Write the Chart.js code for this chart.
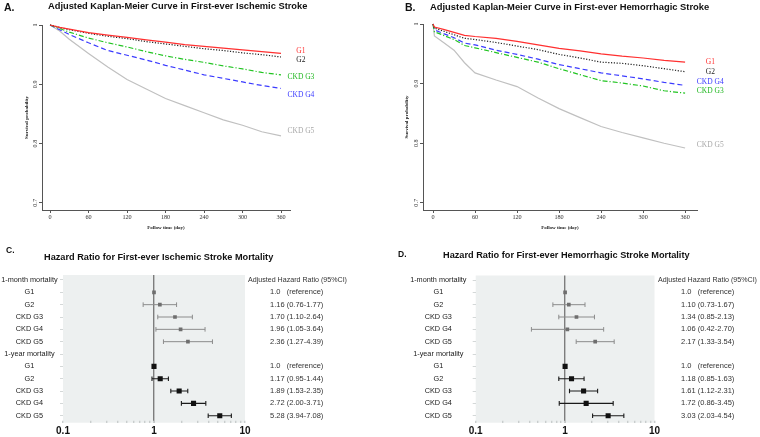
<!DOCTYPE html>
<html lang="en">
<head>
<meta charset="UTF-8">
<title>CKD and stroke mortality</title>
<script src="https://cdn.jsdelivr.net/npm/chart.js"></script>
<style>
  body { margin: 0; background: #fff; width: 760px; height: 437px; position: relative; overflow: hidden;
         font-family: 'Liberation Sans', Arial, sans-serif; }
  canvas { position: absolute; }
  .hd { position: absolute; font-weight: bold; color: #111; white-space: nowrap; line-height: 1; }
</style>
</head>
<body>

<canvas id="kmA" width="380" height="240" style="left:0;top:0"></canvas>
<canvas id="kmB" width="380" height="240" style="left:380px;top:0"></canvas>
<canvas id="hrC" width="380" height="197" style="left:0;top:240px"></canvas>
<canvas id="hrD" width="380" height="197" style="left:380px;top:240px"></canvas>

<div class="hd" style="left:4px;top:1.8px;font-size:10.5px">A.</div>
<div class="hd" style="left:48px;top:2.2px;font-size:9.3px">Adjusted Kaplan-Meier Curve in First-ever Ischemic Stroke</div>
<div class="hd" style="left:405px;top:1.8px;font-size:10.5px">B.</div>
<div class="hd" style="left:430px;top:2.2px;font-size:9.4px">Adjusted Kaplan-Meier Curve in First-ever Hemorrhagic Stroke</div>
<div class="hd" style="left:6px;top:246.3px;font-size:8.5px">C.</div>
<div class="hd" style="left:44px;top:252.8px;font-size:9.2px">Hazard Ratio for First-ever Ischemic Stroke Mortality</div>
<div class="hd" style="left:398px;top:249.8px;font-size:8.5px">D.</div>
<div class="hd" style="left:443px;top:251px;font-size:9.2px">Hazard Ratio for First-ever Hemorrhagic Stroke Mortality</div>

<script>
// ---- Kaplan-Meier data ----
const groups = ['G1', 'G2', 'CKD G3', 'CKD G4', 'CKD G5'];
const dayTicks = [0, 60, 120, 180, 240, 300, 360];
const survTicks = [0.7, 0.8, 0.9, 1];

const daysIsch = [0, 15, 30, 60, 90, 120, 150, 180, 210, 240, 270, 300, 330, 360];
const ischG1 = [1, 0.996, 0.993, 0.987, 0.983, 0.979, 0.975, 0.971, 0.967, 0.964, 0.961, 0.958, 0.955, 0.952];
const ischG2 = [1, 0.996, 0.992, 0.986, 0.981, 0.977, 0.972, 0.968, 0.964, 0.960, 0.957, 0.953, 0.950, 0.946];
const ischG3 = [1, 0.994, 0.988, 0.978, 0.970, 0.963, 0.955, 0.948, 0.942, 0.937, 0.931, 0.926, 0.920, 0.916];
const ischG4 = [1, 0.992, 0.984, 0.970, 0.957, 0.949, 0.941, 0.932, 0.924, 0.916, 0.910, 0.904, 0.898, 0.893];
const ischG5 = [1, 0.990, 0.976, 0.952, 0.929, 0.908, 0.892, 0.876, 0.864, 0.852, 0.840, 0.831, 0.820, 0.813];

const daysHem = [0, 2, 15, 30, 45, 60, 90, 120, 150, 180, 210, 240, 270, 300, 330, 360];
const hemG1 = [1, 0.995, 0.991, 0.986, 0.981, 0.979, 0.976, 0.971, 0.965, 0.959, 0.955, 0.950, 0.946, 0.943, 0.939, 0.936];
const hemG2 = [1, 0.993, 0.988, 0.982, 0.976, 0.974, 0.969, 0.963, 0.957, 0.949, 0.943, 0.936, 0.934, 0.930, 0.925, 0.920];
const hemG3 = [1, 0.987, 0.981, 0.974, 0.964, 0.960, 0.952, 0.944, 0.936, 0.925, 0.915, 0.905, 0.901, 0.896, 0.888, 0.884];
const hemG4 = [1, 0.990, 0.984, 0.977, 0.968, 0.965, 0.956, 0.949, 0.941, 0.932, 0.925, 0.918, 0.913, 0.908, 0.902, 0.897];
const hemG5 = [1, 0.980, 0.969, 0.956, 0.935, 0.918, 0.906, 0.895, 0.876, 0.858, 0.843, 0.828, 0.818, 0.809, 0.800, 0.792];

// ---- hazard ratio data ----
const rowLabels = ['1-month mortality', 'G1', 'G2', 'CKD G3', 'CKD G4', 'CKD G5',
                   '1-year mortality', 'G1', 'G2', 'CKD G3', 'CKD G4', 'CKD G5'];
const hrTicks = [0.1, 1, 10];

const ischMonthHr = [1.0, 1.16, 1.70, 1.96, 2.36];
const ischMonthLo = [null, 0.76, 1.10, 1.05, 1.27];
const ischMonthHi = [null, 1.77, 2.64, 3.64, 4.39];
const ischYearHr = [1.0, 1.17, 1.89, 2.72, 5.28];
const ischYearLo = [null, 0.95, 1.53, 2.00, 3.94];
const ischYearHi = [null, 1.44, 2.35, 3.71, 7.08];

const hemMonthHr = [1.0, 1.10, 1.34, 1.06, 2.17];
const hemMonthLo = [null, 0.73, 0.85, 0.42, 1.33];
const hemMonthHi = [null, 1.67, 2.13, 2.70, 3.54];
const hemYearHr = [1.0, 1.18, 1.61, 1.72, 3.03];
const hemYearLo = [null, 0.85, 1.12, 0.86, 2.03];
const hemYearHi = [null, 1.63, 2.31, 3.45, 4.54];

Chart.defaults.font.family = "'Liberation Sans', Arial, sans-serif";
Chart.defaults.animation = false;
Chart.defaults.plugins.legend.display = false;
Chart.defaults.plugins.tooltip.enabled = false;

const serif = "'Liberation Serif', 'Times New Roman', serif";
const lineColors = ['#ff3030', '#222222', '#22c422', '#3b3bff', '#c0c0c0'];
const textColors = ['#ff3030', '#222222', '#22b822', '#3b3bff', '#a8a8a8'];
const dashes = [[], [1.2, 1.6], [5, 2, 1.2, 2], [5, 3], []];

// group names next to curve ends
const kmLabels = {
  id: 'kmLabels',
  afterDatasetsDraw(chart, args, opts) {
    const ctx = chart.ctx, xs = chart.scales.x, ys = chart.scales.y;
    ctx.save();
    ctx.font = '7.5px ' + serif;
    ctx.textAlign = 'center';
    ctx.textBaseline = 'middle';
    groups.forEach((g, i) => {
      ctx.fillStyle = textColors[i];
      ctx.fillText(g, xs.getPixelForValue(opts.day), ys.getPixelForValue(opts.surv[i]));
    });
    ctx.restore();
  }
};

function drawKm(id, days, series, o) {
  new Chart(document.getElementById(id), {
    type: 'line',
    data: {
      datasets: series.map((vals, i) => ({
        label: groups[i],
        data: days.map((d, k) => ({ x: d, y: vals[k] })),
        borderColor: lineColors[i],
        borderWidth: 1.2,
        borderDash: dashes[i],
        pointRadius: 0,
        tension: 0,
        clip: false
      }))
    },
    options: {
      responsive: false,
      layout: { padding: { left: 0, top: o.top, right: o.right, bottom: 0 } },
      scales: {
        x: {
          type: 'linear', min: o.xMin, max: o.xMax,
          afterBuildTicks: s => { s.ticks = dayTicks.map(v => ({ value: v })); },
          afterFit: s => { s.height = 30; },
          grid: { drawOnChartArea: false, tickLength: 3, tickColor: '#555' },
          border: { color: '#555', width: 1 },
          ticks: { font: { size: 6.2, family: serif }, color: '#333', padding: 0.5, maxRotation: 0, autoSkip: false },
          title: { display: true, text: 'Follow time (day)', color: '#222',
                   font: { size: 5, family: serif, weight: 'bold' }, padding: { top: 0, bottom: 9 } }
        },
        y: {
          type: 'linear', min: 0.688, max: 1,
          afterBuildTicks: s => { s.ticks = survTicks.map(v => ({ value: v })); },
          afterFit: s => { s.width = o.left; },
          grid: { drawOnChartArea: false, tickLength: 3, tickColor: '#555' },
          border: { color: '#555', width: 1 },
          ticks: { font: { size: 6.2, family: serif }, color: '#333', padding: 0, minRotation: 90, maxRotation: 90,
                   crossAlign: 'center', callback: v => String(v) },
          title: { display: true, text: 'Survival probability', color: '#222',
                   font: { size: 5, family: serif, weight: 'bold' }, padding: { top: 24, bottom: 0 } }
        }
      },
      plugins: { kmLabels: { day: o.labelDay, surv: o.labelSurv } }
    },
    plugins: [kmLabels]
  });
}

drawKm('kmA', daysIsch, [ischG1, ischG2, ischG3, ischG4, ischG5], {
  top: 25, right: 90, left: 42, xMin: -12.5, xMax: 374,
  labelDay: 391, labelSurv: [0.956, 0.941, 0.912, 0.882, 0.821]
});
drawKm('kmB', daysHem, [hemG1, hemG2, hemG3, hemG4, hemG5], {
  top: 24, right: 63, left: 43, xMin: -14.3, xMax: 377,
  labelDay: 396, labelSurv: [0.936, 0.920, 0.888, 0.903, 0.797]
});

// ---- forest plots ----
function ciText(hr, lo, hi) {
  if (lo == null) return hr.toFixed(1) + '   (reference)';
  return hr.toFixed(2) + ' (' + lo.toFixed(2) + '-' + hi.toFixed(2) + ')';
}

const forestDecor = {
  id: 'forestDecor',
  beforeDraw(chart) {
    const a = chart.chartArea, ctx = chart.ctx;
    ctx.save();
    ctx.fillStyle = '#edf0f0';
    ctx.fillRect(a.left, a.top, a.right - a.left, a.bottom - a.top);
    ctx.restore();
  },
  afterDraw(chart, args, opts) {
    const a = chart.chartArea, ctx = chart.ctx, ys = chart.scales.y;
    const fam = Chart.defaults.font.family;
    ctx.save();
    ctx.fillStyle = '#333';
    ctx.textBaseline = 'middle';
    ctx.font = '7.1px ' + fam;
    ctx.fillText('Adjusted Hazard Ratio (95%CI)', a.right + opts.headX, ys.getPixelForValue(0));
    ctx.font = '7.5px ' + fam;
    opts.lines.forEach((t, i) => {
      if (t) ctx.fillText(t, a.right + opts.valX, ys.getPixelForValue(i));
    });
    ctx.restore();
  }
};

function drawForest(id, month, year, o) {
  const sets = [];
  const lines = [''];
  [[month, 1, '#8c8c8c', '#6e6e6e', 2.6, 1], [year, 7, '#1a1a1a', '#111', 3.6, 1.1]].forEach(([g, start, barCol, ptCol, r, bw]) => {
    g.hr.forEach((hr, i) => {
      const row = start + i;
      lines[row] = ciText(hr, g.lo[i], g.hi[i]);
      if (g.lo[i] != null) {
        sets.push({
          data: [{ x: g.lo[i], y: row }, { x: g.hi[i], y: row }],
          borderColor: barCol, borderWidth: bw,
          pointStyle: 'line', pointRotation: 90, pointRadius: 2.3,
          pointBorderColor: barCol, pointBorderWidth: bw
        });
      }
    });
    sets.unshift({
      data: g.hr.map((hr, i) => ({ x: hr, y: start + i })),
      showLine: false, pointStyle: 'rect', pointRadius: r,
      pointBackgroundColor: ptCol, pointBorderColor: ptCol, pointBorderWidth: 0
    });
    if (start === 1) lines[6] = '';
  });

  new Chart(document.getElementById(id), {
    type: 'line',
    data: { datasets: sets },
    options: {
      responsive: false,
      layout: { padding: { left: 0, top: o.top, right: o.right, bottom: 0 } },
      scales: {
        x: {
          type: 'logarithmic', min: 0.1, max: 10,
          afterBuildTicks: s => {
            const t = [];
            [0.1, 1].forEach(b => { for (let k = 1; k < 10; k++) t.push({ value: +(b * k).toFixed(1) }); });
            t.push({ value: 10 });
            s.ticks = t;
          },
          afterFit: s => { s.height = 14.3; },
          grid: {
            drawOnChartArea: true, tickLength: -2, tickColor: '#c9cdcd', lineWidth: 1.4,
            color: c => (c.tick && c.tick.value === 1 ? '#7d7d7d' : 'rgba(0,0,0,0)')
          },
          border: { display: false },
          ticks: {
            autoSkip: false, maxRotation: 0, padding: 5, color: '#111',
            font: { size: 10, weight: 'bold' },
            callback: v => (hrTicks.includes(v) ? String(v) : '')
          }
        },
        y: {
          type: 'linear', reverse: true, min: o.yMin, max: 11.567,
          afterBuildTicks: s => { s.ticks = rowLabels.map((l, i) => ({ value: i })); },
          afterFit: s => { s.width = o.left; },
          grid: { drawOnChartArea: false, tickLength: 3, tickColor: '#d4d8d8' },
          border: { display: false },
          ticks: {
            crossAlign: 'center', padding: o.labPad, color: '#222', font: { size: 7.3 },
            autoSkip: false, callback: (v, i) => rowLabels[i]
          }
        }
      },
      plugins: { forestDecor: { lines: lines, headX: o.headX, valX: o.valX } }
    },
    plugins: [forestDecor]
  });
}

drawForest('hrC',
  { hr: ischMonthHr, lo: ischMonthLo, hi: ischMonthHi },
  { hr: ischYearHr, lo: ischYearLo, hi: ischYearHi },
  { top: 35, right: 135, left: 63, yMin: -0.405, labPad: 2.4, headX: 3, valX: 25 });
drawForest('hrD',
  { hr: hemMonthHr, lo: hemMonthLo, hi: hemMonthHi },
  { hr: hemYearHr, lo: hemYearLo, hi: hemYearHi },
  { top: 35.5, right: 105.5, left: 95.7, yMin: -0.365, labPad: 6.2, headX: 3.5, valX: 26.5 });
</script>
</body>
</html>
